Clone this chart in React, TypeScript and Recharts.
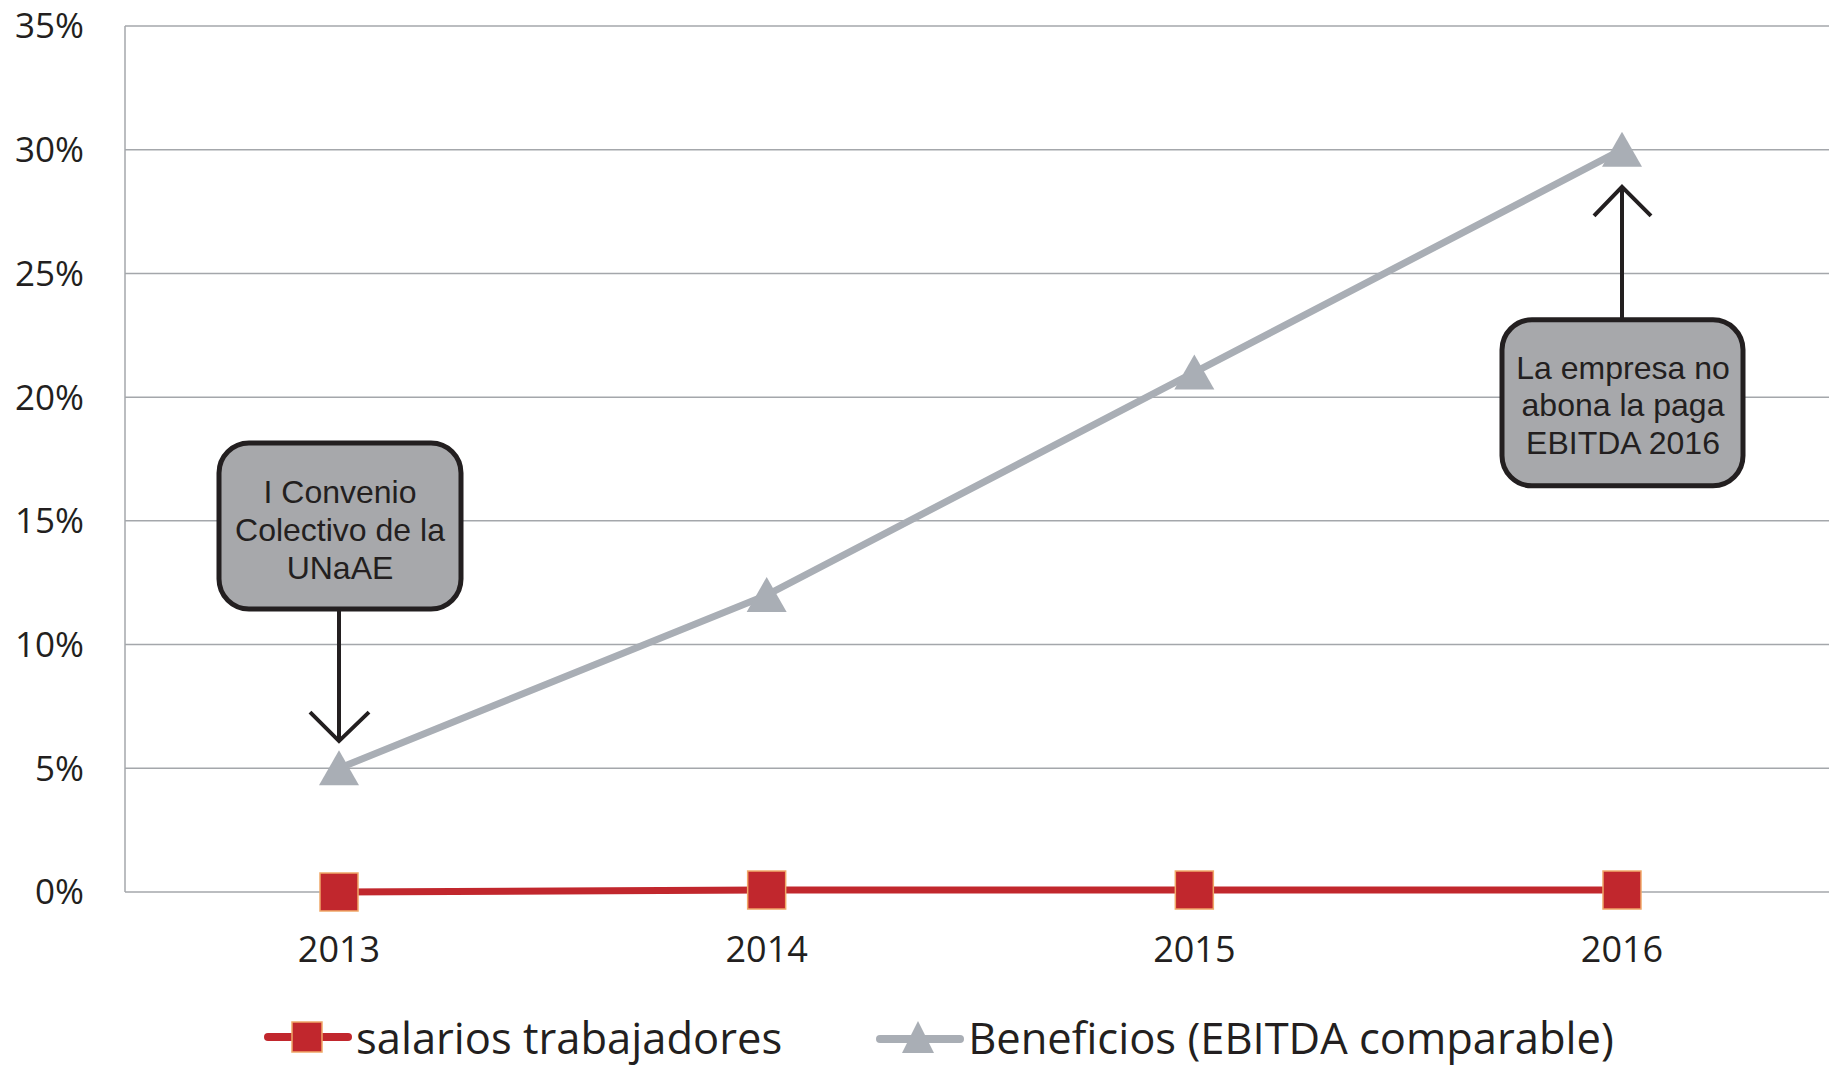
import { LineChart, Line, XAxis, YAxis, CartesianGrid, Legend, ReferenceDot } from 'recharts';

const years = ['2013', '2014', '2015', '2016'];
const salarios = [0, 0.0008, 0.0008, 0.0008];
const beneficios = [0.05, 0.12, 0.21, 0.3];
const yTicks = [0, 0.05, 0.1, 0.15, 0.2, 0.25, 0.3, 0.35];

const seriesNames = {
  salarios: 'salarios trabajadores',
  beneficios: 'Beneficios (EBITDA comparable)',
};

const data = years.map((year, i) => ({
  year,
  salarios: salarios[i],
  beneficios: beneficios[i],
}));

const RED = '#c1272d';
const GREY = '#a9aeb5';
const GRID = '#a4a7ab';
const INK = '#231f20';
const BOX = '#a7a8ab';

const SquareDot = (props: any) => {
  const { cx, cy, index } = props;
  if (cx == null || cy == null) return <g key={`s-${index}`} />;
  return (
    <rect key={`s-${index}`} x={cx - 19} y={cy - 19} width={38} height={38} fill={RED} stroke="#f0a868" strokeWidth={1.5} />
  );
};

const TriangleDot = (props: any) => {
  const { cx, cy, index } = props;
  if (cx == null || cy == null) return <g key={`t-${index}`} />;
  return <path key={`t-${index}`} d={`M${cx},${cy - 18} L${cx + 20},${cy + 17} L${cx - 20},${cy + 17} Z`} fill={GREY} />;
};

const textStyle = { fontFamily: '"Liberation Sans", Arial, sans-serif', fontSize: 32, fill: INK };

// callout above the point, arrow pointing down
const CalloutDown = (props: any) => {
  const { cx, cy } = props;
  const lines = ['I Convenio', 'Colectivo de la', 'UNaAE'];
  return (
    <g>
      <rect x={cx - 120} y={cy - 298} width={242} height={166} rx={30} ry={30} fill={BOX} stroke={INK} strokeWidth={5} />
      {lines.map((t, i) => (
        <text key={t} x={cx + 1} y={cy - 238 + i * 38} textAnchor="middle" style={textStyle}>
          {t}
        </text>
      ))}
      <line x1={cx} y1={cy - 132} x2={cx} y2={cy} stroke={INK} strokeWidth={4} />
      <polyline points={`${cx - 29},${cy - 29} ${cx},${cy} ${cx + 30},${cy - 29}`} fill="none" stroke={INK} strokeWidth={4} />
    </g>
  );
};

// callout below the point, arrow pointing up
const CalloutUp = (props: any) => {
  const { cx, cy } = props;
  const lines = ['La empresa no', 'abona la paga', 'EBITDA 2016'];
  return (
    <g>
      <rect x={cx - 120} y={cy + 133} width={241} height={166} rx={30} ry={30} fill={BOX} stroke={INK} strokeWidth={5} />
      {lines.map((t, i) => (
        <text key={t} x={cx + 1} y={cy + 192 + i * 37.5} textAnchor="middle" style={textStyle}>
          {t}
        </text>
      ))}
      <line x1={cx} y1={cy + 133} x2={cx} y2={cy} stroke={INK} strokeWidth={4} />
      <polyline points={`${cx - 28},${cy + 29} ${cx},${cy} ${cx + 29},${cy + 29}`} fill="none" stroke={INK} strokeWidth={4} />
    </g>
  );
};

const legendText = { fontFamily: '"Open Sans", sans-serif', fontSize: 43.5, color: INK, whiteSpace: 'nowrap' as const };

const renderLegend = () => (
  <div style={{ height: 60, display: 'flex', alignItems: 'center', paddingLeft: 264, boxSizing: 'border-box', paddingTop: 4 }}>
    <svg width={88} height={40} style={{ marginRight: 4 }}>
      <line x1={4} y1={20} x2={84} y2={20} stroke={RED} strokeWidth={8} strokeLinecap="round" />
      <rect x={28} y={5} width={30} height={30} fill={RED} stroke="#f0a868" strokeWidth={1.5} />
    </svg>
    <span style={legendText}>{seriesNames.salarios}</span>
    <svg width={88} height={40} style={{ marginLeft: 94, marginRight: 4 }}>
      <line x1={4} y1={22} x2={84} y2={22} stroke={GREY} strokeWidth={8} strokeLinecap="round" />
      <path d="M42,4 L58,36 L26,36 Z" fill={GREY} />
    </svg>
    <span style={legendText}>{seriesNames.beneficios}</span>
  </div>
);

export default function App() {
  return (
    <div style={{ position: 'absolute', left: 0, top: 0, width: 1829, height: 1065, overflow: 'hidden', background: '#fff' }}>
      <LineChart width={1840} height={1065} data={data} margin={{ top: 26, right: 4, bottom: 0, left: 0 }}>
        <CartesianGrid vertical={false} stroke={GRID} strokeWidth={1.5} />
        <XAxis
          dataKey="year"
          scale="point"
          padding={{ left: 214, right: 214 }}
          axisLine={false}
          tickLine={false}
          tickSize={0}
          tickMargin={44}
          height={113}
          tick={{ fontSize: 36, fill: INK, fontFamily: '"Open Sans", sans-serif' }}
        />
        <YAxis
          width={125}
          domain={[0, 0.35]}
          ticks={yTicks}
          tickFormatter={(v: number) => `${Math.round(v * 100)}%`}
          axisLine={{ stroke: GRID, strokeWidth: 1.5 }}
          tickLine={false}
          tickSize={0}
          tickMargin={41}
          tick={{ fontSize: 35, fill: INK, fontFamily: '"Open Sans", sans-serif' }}
        />
        <Legend verticalAlign="bottom" height={60} content={renderLegend} />
        <Line
          dataKey="beneficios"
          name={seriesNames.beneficios}
          stroke={GREY}
          strokeWidth={7}
          dot={TriangleDot}
          activeDot={false}
          isAnimationActive={false}
        />
        <Line
          dataKey="salarios"
          name={seriesNames.salarios}
          stroke={RED}
          strokeWidth={7}
          dot={SquareDot}
          activeDot={false}
          isAnimationActive={false}
        />
        <ReferenceDot x="2013" y={0.061} r={0} ifOverflow="visible" shape={CalloutDown} />
        <ReferenceDot x="2016" y={0.285} r={0} ifOverflow="visible" shape={CalloutUp} />
      </LineChart>
    </div>
  );
}
